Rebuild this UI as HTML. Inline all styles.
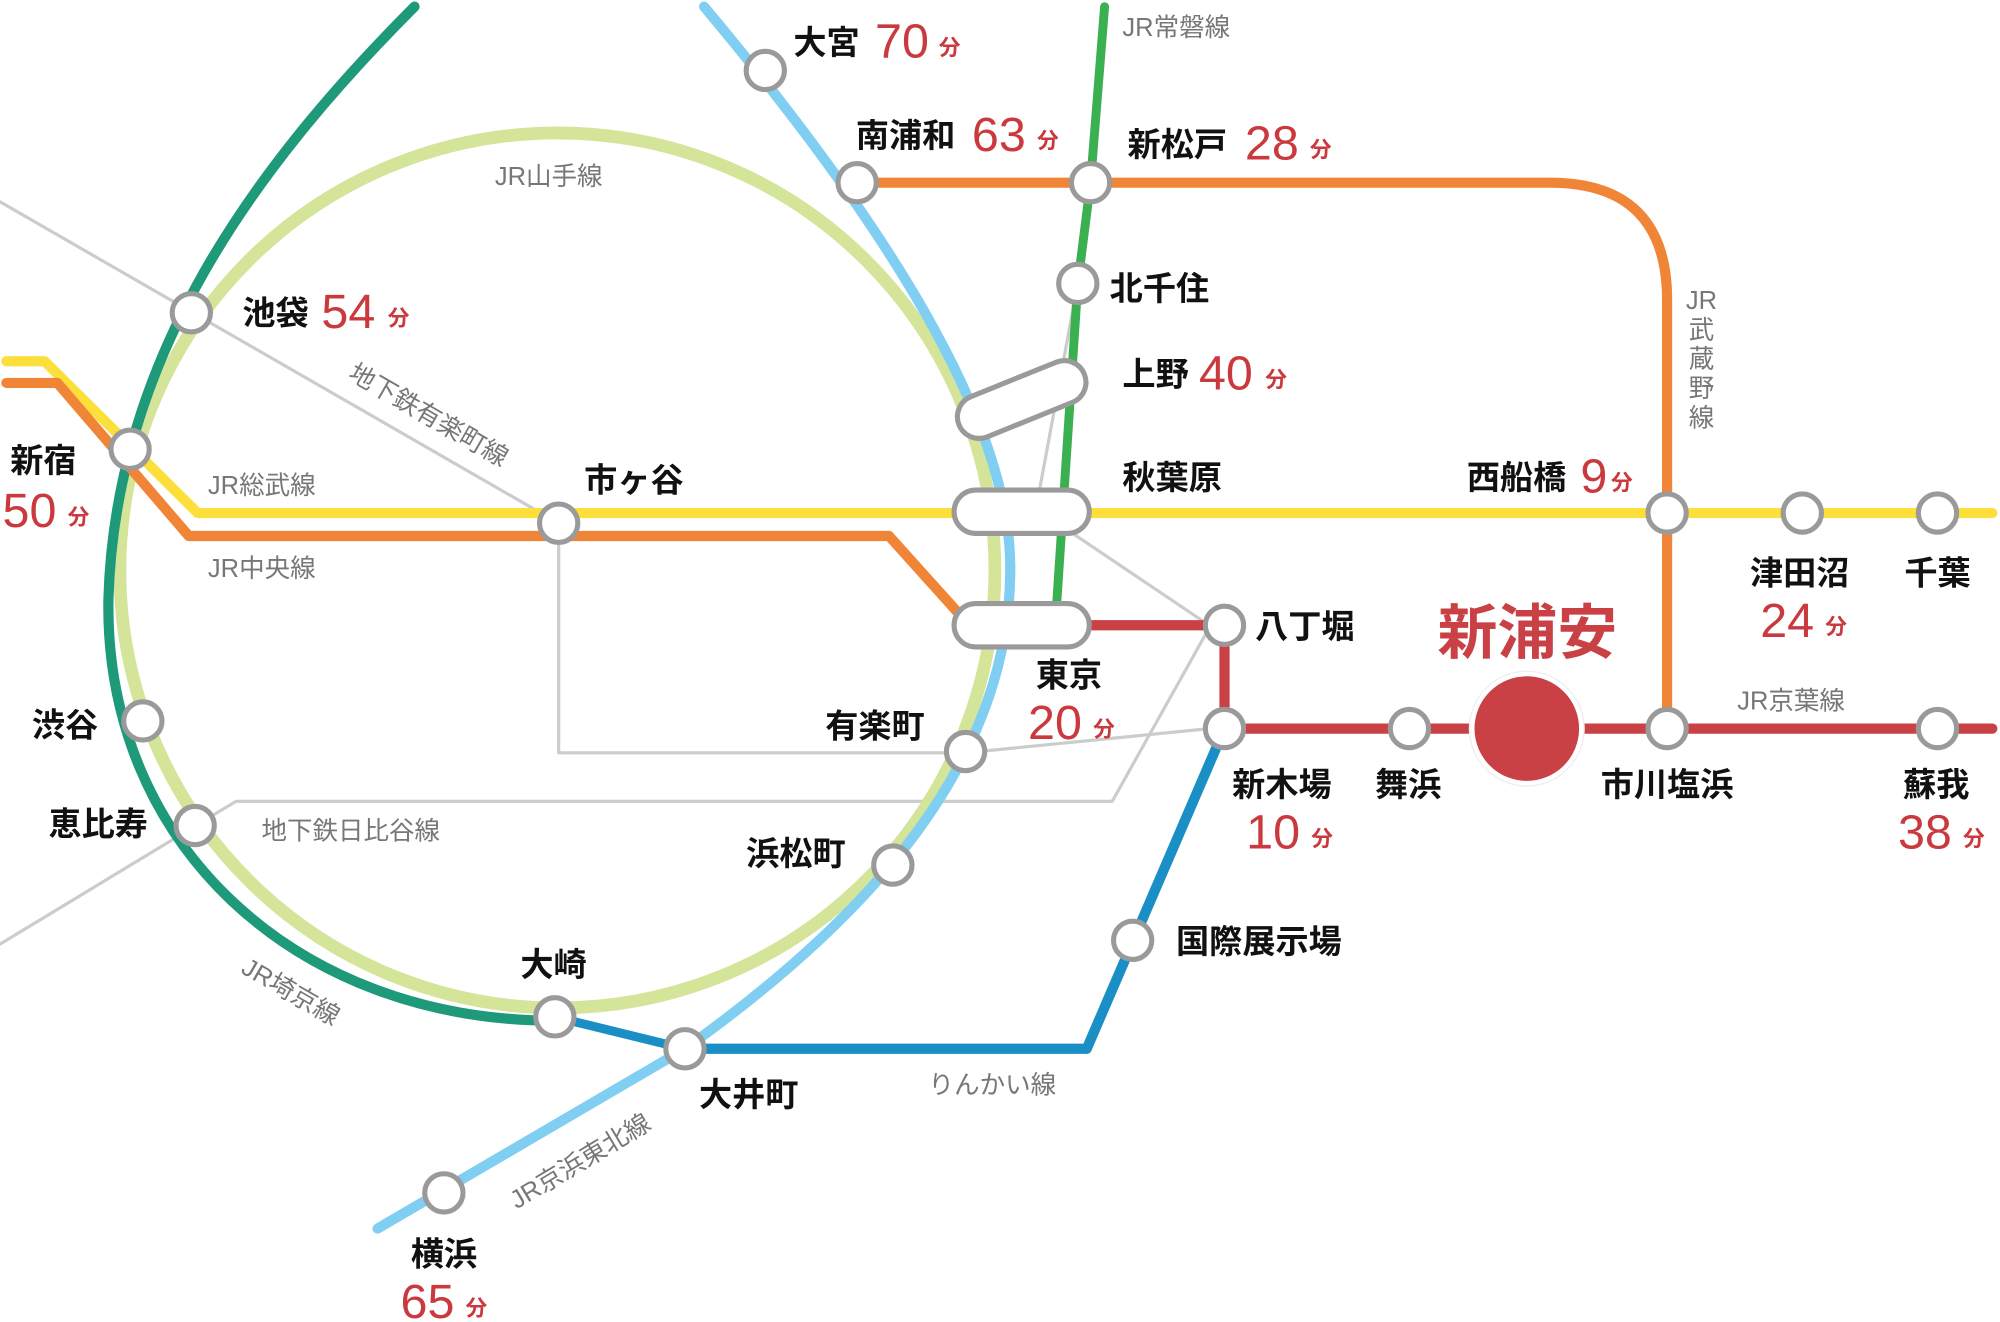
<!DOCTYPE html>
<html><head><meta charset="utf-8"><style>
html,body{margin:0;padding:0;background:#fff;}
svg{display:block}
.s{font-family:"Liberation Sans","Noto Sans CJK JP",sans-serif;font-weight:bold;font-size:26px;fill:#111}
.m{font-family:"Liberation Sans","Noto Sans CJK JP",sans-serif;font-size:38px;fill:#c9393d}
.f{font-family:"Liberation Sans","Noto Sans CJK JP",sans-serif;font-weight:bold;font-size:17px;fill:#c9393d}
.g{font-family:"Liberation Sans","Noto Sans CJK JP",sans-serif;font-size:20px;fill:#777}
</style></head><body>
<svg width="2000" height="1322" viewBox="0 0 1568 1036" xmlns="http://www.w3.org/2000/svg">
<g fill="none" stroke-linecap="round" stroke-linejoin="round">
<g stroke="#cccccc" stroke-width="2.5">
<polyline points="0,158 438,410 438,590 757,590"/>
<polyline points="757,590 948,571"/>
<polyline points="0,740 185,628 872,628 948,492"/>
<polyline points="841,418 948,490"/>
<polyline points="845,222 812,400"/>
</g>
<circle cx="437" cy="447" r="343" stroke="#d4e499" stroke-width="10"/>
<path d="M325,5 C200,130 90,280 85,470 C82,660 230,800 435,800" stroke="#1e9a7b" stroke-width="8"/>
<path d="M552,5 C690,170 795,330 792,450 C790,600 680,720 537,822 L296,963" stroke="#80cff2" stroke-width="8"/>
<polyline points="866,5 855,143 845,222 828,480" stroke="#3bb050" stroke-width="7"/>
<path d="M672,143 L1215,143 Q1307,143 1307,235 L1307,572" stroke="#f08538" stroke-width="8"/>
<polyline points="5,283 35,283 155,402 1562,402" stroke="#fddf3b" stroke-width="8"/>
<polyline points="5,300 45,300 148,420 697,420 760,490" stroke="#f08538" stroke-width="8"/>
<polyline points="800,490 960,490 960,571 1562,571" stroke="#c94145" stroke-width="8"/>
<polyline points="960,571 852,822 537,822" stroke="#1a8fc6" stroke-width="8"/>
<polyline points="435,797 537,822" stroke="#1a8fc6" stroke-width="7"/>
</g>
<g fill="#fff" stroke="#9a9a9a" stroke-width="4">
<rect x="748" y="384" width="106" height="34" rx="17"/>
<rect x="748" y="473" width="106" height="34" rx="17"/>
<rect x="748" y="296" width="106" height="34" rx="17" transform="rotate(-22 801 313)"/>
</g>
<g fill="#fff" stroke="#9a9a9a" stroke-width="4">
<circle cx="600" cy="55" r="15"/>
<circle cx="672" cy="143" r="15"/>
<circle cx="855" cy="143" r="15"/>
<circle cx="845" cy="222" r="15"/>
<circle cx="150" cy="245" r="15"/>
<circle cx="102" cy="352" r="15"/>
<circle cx="438" cy="410" r="15"/>
<circle cx="1307" cy="402" r="15"/>
<circle cx="1413" cy="402" r="15"/>
<circle cx="1519" cy="402" r="15"/>
<circle cx="960" cy="490" r="15"/>
<circle cx="112" cy="565" r="15"/>
<circle cx="757" cy="589" r="15"/>
<circle cx="960" cy="571" r="15"/>
<circle cx="1105" cy="571" r="15"/>
<circle cx="1307" cy="571" r="15"/>
<circle cx="1519" cy="571" r="15"/>
<circle cx="153" cy="647" r="15"/>
<circle cx="700" cy="678" r="15"/>
<circle cx="888" cy="737" r="15"/>
<circle cx="435" cy="797" r="15"/>
<circle cx="537" cy="822" r="15"/>
<circle cx="348" cy="935" r="15"/>
</g>
<circle cx="1197" cy="571" r="45" fill="#fff" stroke="#eee" stroke-width="1"/>
<circle cx="1197" cy="571" r="41" fill="#c94145"/>
<text class="s" x="622" y="42">大宮</text><text class="m" x="686" y="45">70</text><text class="f" x="736" y="43">分</text>
<text class="s" x="671" y="115">南浦和</text><text class="m" x="762" y="118">63</text><text class="f" x="813" y="116">分</text>
<text class="s" x="884" y="122">新松戸</text><text class="m" x="976" y="125">28</text><text class="f" x="1027" y="123">分</text>
<text class="g" x="880" y="28">JR常磐線</text>
<text class="g" x="388" y="145">JR山手線</text>
<text class="s" x="870" y="235">北千住</text>
<text class="s" x="880" y="302">上野</text><text class="m" x="940" y="305">40</text><text class="f" x="992" y="303">分</text>
<text class="s" x="190" y="254">池袋</text><text class="m" x="252" y="257">54</text><text class="f" x="304" y="255">分</text>
<text class="g" transform="translate(272,296) rotate(30)">地下鉄有楽町線</text>
<text class="s" x="8" y="370">新宿</text><text class="m" x="2" y="413">50</text><text class="f" x="53" y="411">分</text>
<text class="g" x="163" y="387">JR総武線</text>
<text class="s" x="458" y="385">市ヶ谷</text>
<text class="s" x="880" y="383">秋葉原</text>
<text class="s" x="1150" y="383">西船橋</text><text class="m" x="1239" y="386">9</text><text class="f" x="1263" y="384">分</text>
<text class="g" x="163" y="452">JR中央線</text>
<text class="s" x="984" y="500">八丁堀</text>
<text style="font-family:'Liberation Sans','Noto Sans CJK JP',sans-serif;font-weight:bold;font-size:47px;fill:#c94145" x="1127" y="512">新浦安</text>
<text class="s" x="812" y="538">東京</text><text class="m" x="806" y="579">20</text><text class="f" x="857" y="577">分</text>
<text class="s" x="1372" y="458">津田沼</text><text class="m" x="1380" y="499">24</text><text class="f" x="1431" y="497">分</text>
<text class="s" x="1493" y="458">千葉</text>
<text class="g" x="1362" y="556">JR京葉線</text>
<text class="s" x="25" y="577">渋谷</text>
<text class="s" x="647" y="578">有楽町</text>
<text class="s" x="966" y="624">新木場</text><text class="m" x="977" y="665">10</text><text class="f" x="1028" y="663">分</text>
<text class="s" x="1078" y="624">舞浜</text>
<text class="s" x="1255" y="624">市川塩浜</text>
<text class="s" x="1492" y="624">蘇我</text><text class="m" x="1488" y="665">38</text><text class="f" x="1539" y="663">分</text>
<text class="s" x="38" y="655">恵比寿</text>
<text class="g" x="205" y="658">地下鉄日比谷線</text>
<text class="s" x="585" y="678">浜松町</text>
<text class="s" x="922" y="747">国際展示場</text>
<text class="s" x="408" y="765">大崎</text>
<text class="g" transform="translate(188,762) rotate(30)">JR埼京線</text>
<text class="g" x="728" y="857">りんかい線</text>
<text class="s" x="548" y="867">大井町</text>
<text class="g" transform="translate(405,948) rotate(-31)">JR京浜東北線</text>
<text class="s" x="322" y="992">横浜</text><text class="m" x="314" y="1033">65</text><text class="f" x="365" y="1031">分</text>
<g class="g" text-anchor="middle">
<text x="1334" y="242">JR</text>
<text x="1334" y="265">武</text>
<text x="1334" y="288">蔵</text>
<text x="1334" y="311">野</text>
<text x="1334" y="334">線</text>
</g>
</svg>
</body></html>
